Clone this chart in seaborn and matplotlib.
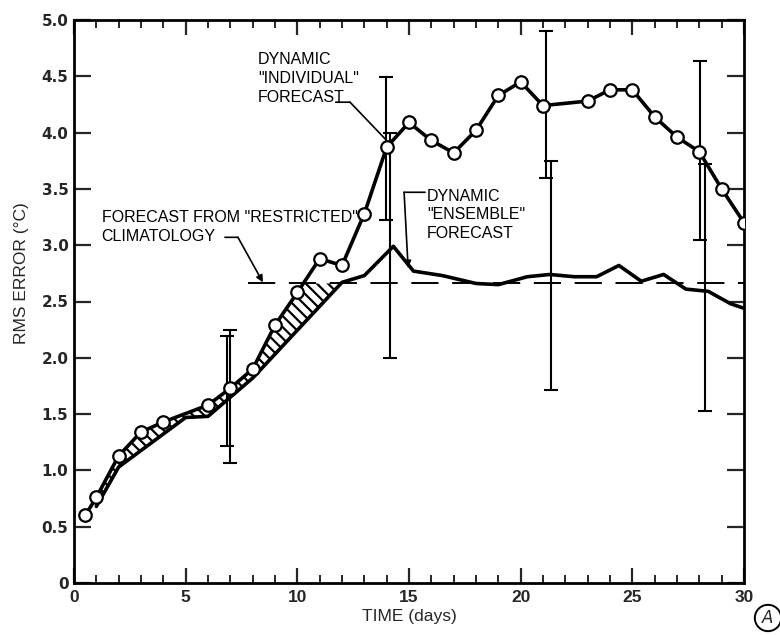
import numpy as np
import matplotlib
matplotlib.use("Agg")
import matplotlib.pyplot as plt
from matplotlib.ticker import MultipleLocator, FuncFormatter
import seaborn as sns

# ---------------- data ----------------
ind_days = [0.5, 1, 2, 3, 4, 6, 7, 8, 9, 10, 11, 12, 13, 14, 15, 16, 17, 18, 19,
            20, 21, 23, 24, 25, 26, 27, 28, 29, 30]
ind_rms = [0.60, 0.76, 1.13, 1.34, 1.43, 1.58, 1.73, 1.90, 2.29, 2.58, 2.88, 2.82,
           3.28, 3.87, 4.09, 3.93, 3.82, 4.02, 4.33, 4.45, 4.24, 4.28, 4.38, 4.38,
           4.14, 3.96, 3.83, 3.50, 3.20]

ens_days = [1, 2, 5, 6, 8, 12, 13, 14.3, 15.2, 16.5, 18, 19, 20.3, 21.3, 22.4,
            23.4, 24.4, 25.4, 26.4, 27.4, 28.4, 29.4, 30]
ens_rms = [0.68, 1.03, 1.47, 1.48, 1.82, 2.67, 2.73, 2.99, 2.77, 2.73, 2.66, 2.65,
           2.72, 2.74, 2.72, 2.72, 2.82, 2.68, 2.74, 2.61, 2.59, 2.48, 2.44]

clim_days = [7.8, 30]
clim_rms = [2.66, 2.66]

ind_err_x = [7.0, 13.97, 21.15, 28.03]
ind_err_lo = [1.07, 3.22, 3.60, 3.05]
ind_err_hi = [2.25, 4.49, 4.90, 4.64]

ens_err_x = [6.85, 14.15, 21.35, 28.25]
ens_err_lo = [1.22, 2.00, 1.71, 1.53]
ens_err_hi = [2.19, 4.00, 3.75, 3.72]

hatch_range = [1.0, 12.2]

x_ticks = [0, 5, 10, 15, 20, 25, 30]
y_ticks = [0, 0.5, 1.0, 1.5, 2.0, 2.5, 3.0, 3.5, 4.0, 4.5, 5.0]

# ---------------- style ----------------
sns.set_style("ticks")
NARROW = ["Liberation Sans", "DejaVu Sans"]
plt.rcParams["font.family"] = NARROW

fig = plt.figure(figsize=(7.8, 6.35), dpi=100)
ax = fig.add_axes([74 / 780, 1 - 583 / 635, (744 - 74) / 780, (583 - 20) / 635])

# hatched region between the curves, capped by climatology
grid = np.linspace(hatch_range[0], hatch_range[1], 600)
upper = np.minimum(np.interp(grid, ind_days, ind_rms), clim_rms[0])
lower = np.interp(grid, ens_days, ens_rms)
plt.rcParams["hatch.linewidth"] = 1.6
ax.fill_between(grid, lower, upper, where=upper > lower, facecolor="none",
                edgecolor="black", hatch="\\\\\\", linewidth=0, zorder=1)

# climatology dashed line
ax.plot(clim_days, clim_rms, color="black", lw=1.4, dashes=(14, 7), zorder=2)

# error bars
ax.errorbar(ind_err_x, [(a + b) / 2 for a, b in zip(ind_err_lo, ind_err_hi)],
            yerr=[[(b - a) / 2 for a, b in zip(ind_err_lo, ind_err_hi)]] * 2,
            fmt="none", ecolor="black", elinewidth=1.5, capsize=5, capthick=1.5, zorder=2)
ax.errorbar(ens_err_x, [(a + b) / 2 for a, b in zip(ens_err_lo, ens_err_hi)],
            yerr=[[(b - a) / 2 for a, b in zip(ens_err_lo, ens_err_hi)]] * 2,
            fmt="none", ecolor="black", elinewidth=1.5, capsize=5, capthick=1.5, zorder=2)

# curves
sns.lineplot(x=ens_days, y=ens_rms, color="black", linewidth=2.6, ax=ax,
             sort=False, zorder=3)
sns.lineplot(x=ind_days, y=ind_rms, color="black", linewidth=2.6, marker="o",
             markersize=9, markerfacecolor="white", markeredgecolor="black",
             markeredgewidth=1.6, ax=ax, sort=False, zorder=4)

# axes
ax.set_xlim(0, 30)
ax.set_ylim(0, 5)
ax.set_xticks(x_ticks)
ax.xaxis.set_minor_locator(MultipleLocator(1))
ax.set_yticks(y_ticks)
ax.yaxis.set_major_formatter(FuncFormatter(lambda v, p: "0" if v == 0 else f"{v:.1f}"))
ax.xaxis.set_major_formatter(FuncFormatter(lambda v, p: f"{int(v)}"))
ax.tick_params(axis="x", which="major", direction="in", length=11, width=1.6,
               top=True, bottom=True, labelsize=12.5, pad=5)
ax.tick_params(axis="x", which="minor", direction="in", length=6, width=1.4,
               top=True, bottom=True)
ax.tick_params(axis="y", which="major", direction="in", length=12, width=1.6,
               left=True, right=True, pad=4)
for lab in ax.get_yticklabels():
    lab.set_fontfamily("DejaVu Sans")
    lab.set_fontweight("bold")
    lab.set_fontsize(11)
for lab in ax.get_xticklabels():
    lab.set_fontweight("bold")
for sp in ax.spines.values():
    sp.set_visible(True)
    sp.set_linewidth(2.0)
    sp.set_color("black")

ax.set_xlabel("TIME (days)", fontsize=12.5, labelpad=3)
ax.set_ylabel("RMS ERROR (°C)", fontsize=12.5)
ax.yaxis.set_label_coords(-0.067, 0.55)

# annotations
TXT = dict(fontsize=11.5, color="black", ha="left", va="center", linespacing=1.3)
ax.text(8.24, 4.48, 'DYNAMIC\n"INDIVIDUAL"\nFORECAST', **TXT)
ax.text(1.24, 3.16, 'FORECAST FROM "RESTRICTED"\nCLIMATOLOGY', **TXT)
ax.text(15.8, 3.27, 'DYNAMIC\n"ENSEMBLE"\nFORECAST', **TXT)

LN = dict(arrowstyle="-", lw=1.2, color="black", shrinkA=0, shrinkB=0)
AR = dict(arrowstyle="-|>", lw=1.2, color="black", shrinkA=0, shrinkB=0,
          mutation_scale=10)
# individual leader
ax.annotate("", xy=(12.36, 4.27), xytext=(11.72, 4.27), arrowprops=LN)
ax.annotate("", xy=(14.0, 3.93), xytext=(12.36, 4.27), arrowprops=LN)
# climatology leader
ax.annotate("", xy=(7.34, 3.07), xytext=(6.76, 3.07), arrowprops=LN)
ax.annotate("", xy=(8.46, 2.67), xytext=(7.34, 3.07), arrowprops=AR)
# ensemble leader
ax.annotate("", xy=(14.78, 3.47), xytext=(15.72, 3.47), arrowprops=LN)
ax.annotate("", xy=(14.96, 2.80), xytext=(14.78, 3.47), arrowprops=AR)

# circled panel mark
fig.text(768 / 780, 1 - 618 / 635, "A", fontsize=12, style="italic", ha="center",
         va="center", family="DejaVu Sans",
         bbox=dict(boxstyle="circle,pad=0.25", fc="none", ec="black", lw=1.4))

fig.savefig("out.png", dpi=100)
